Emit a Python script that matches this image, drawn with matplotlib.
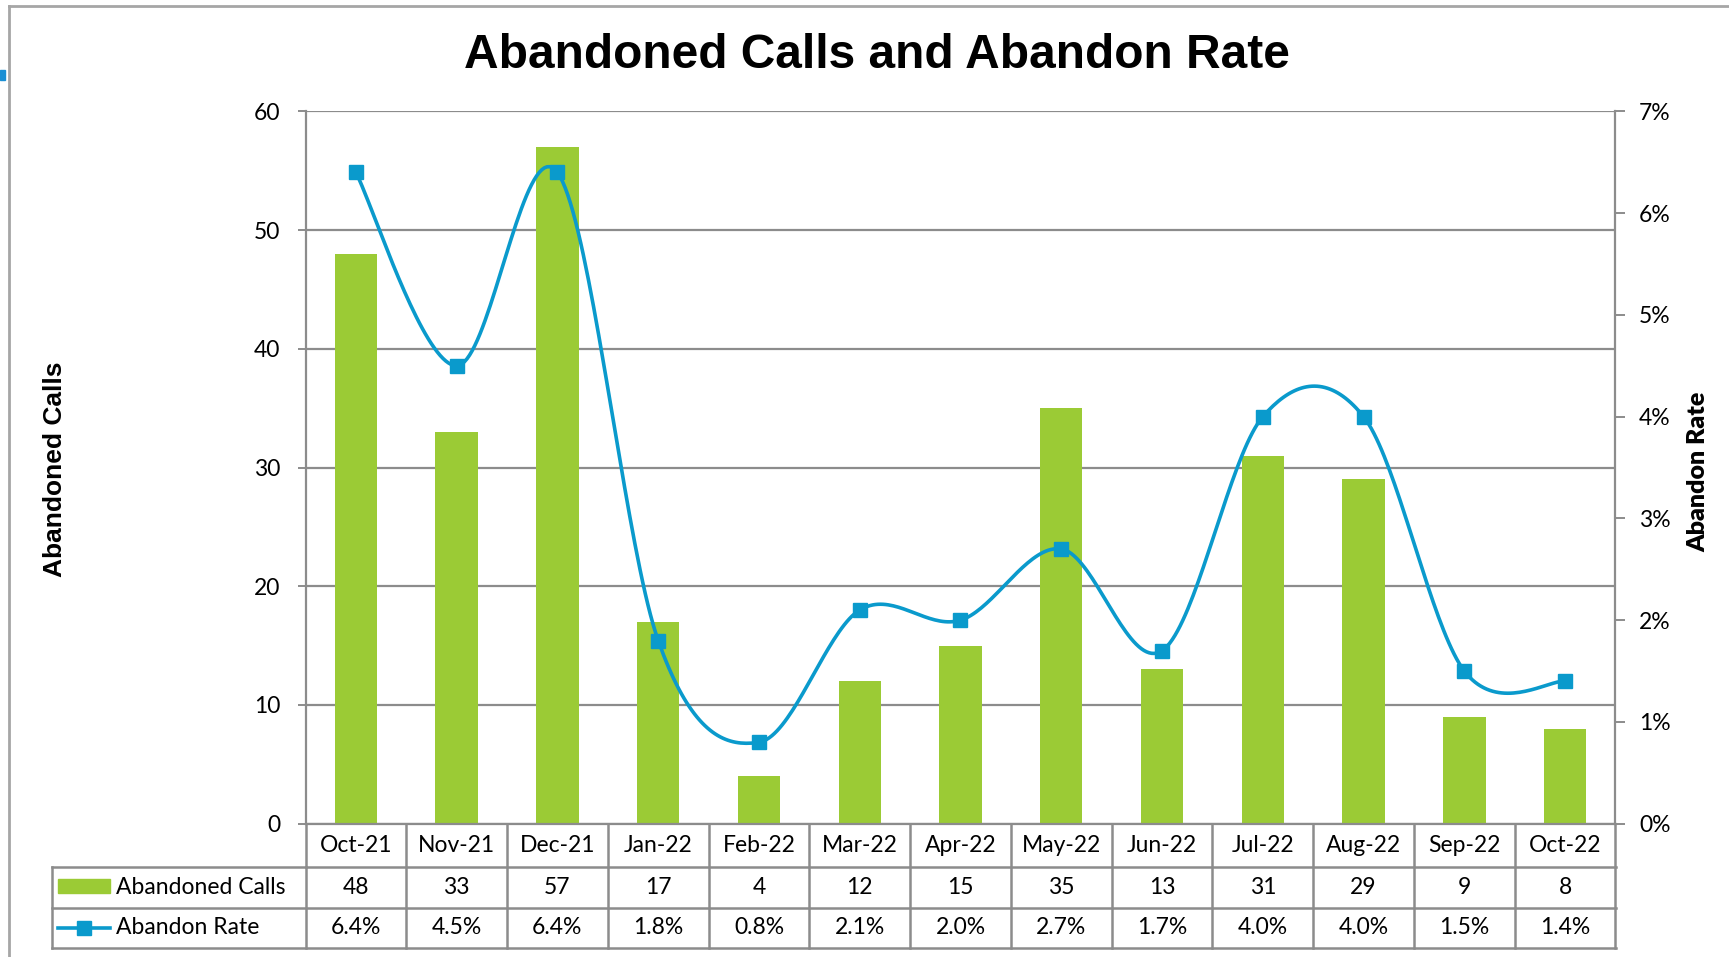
import numpy as np
import matplotlib
matplotlib.use("Agg")
import matplotlib.pyplot as plt
from matplotlib.lines import Line2D
from matplotlib.patches import Rectangle
from matplotlib.transforms import blended_transform_factory

months = ["Oct-21", "Nov-21", "Dec-21", "Jan-22", "Feb-22", "Mar-22", "Apr-22",
          "May-22", "Jun-22", "Jul-22", "Aug-22", "Sep-22", "Oct-22"]
abandoned_calls = [48, 33, 57, 17, 4, 12, 15, 35, 13, 31, 29, 9, 8]
abandon_rate = [6.4, 4.5, 6.4, 1.8, 0.8, 2.1, 2.0, 2.7, 1.7, 4.0, 4.0, 1.5, 1.4]
left_ticks = [0, 10, 20, 30, 40, 50, 60]
right_ticks = [0, 1, 2, 3, 4, 5, 6, 7]

GREEN = "#9BCB35"
BLUE = "#0A9ACC"
GRID = "#8C8C8C"
TICKFONT = "Lato"
TITLEFONT = "Liberation Sans"
FS = 16.5

W, H = 1729, 957
fig = plt.figure(figsize=(W / 100, H / 100), dpi=100)

def fx(px):
    return px / W

def fy(py):
    return 1 - py / H

L, R, T, B = 305.5, 1615.5, 111.4, 823.7
ax = fig.add_axes([fx(L), fy(B), fx(R - L), (B - T) / H])
n = len(months)
x = np.arange(n)

ax.bar(x, abandoned_calls, width=0.42, color=GREEN, zorder=2)
ax.set_xlim(-0.5, n - 0.5)
ax.set_ylim(0, 60)
ax.set_yticks(left_ticks)
ax.set_xticks([])
ax.yaxis.grid(True, color=GRID, linewidth=1.6, zorder=0)
ax.set_axisbelow(True)
for s in ["top", "right"]:
    ax.spines[s].set_visible(False)
ax.spines["left"].set_color(GRID)
ax.spines["left"].set_linewidth(1.6)
ax.spines["bottom"].set_color(GRID)
ax.spines["bottom"].set_linewidth(1.6)
ax.tick_params(axis="y", direction="out", length=6, width=1.4, color=GRID,
               pad=12, labelsize=FS)
for lab in ax.get_yticklabels():
    lab.set_fontfamily(TICKFONT)

ax2 = ax.twinx()
ax2.set_ylim(0, 7)
ax2.set_yticks(right_ticks)
ax2.set_yticklabels([f"{v}%" for v in right_ticks])
for s in ["top", "left", "bottom"]:
    ax2.spines[s].set_visible(False)
ax2.spines["right"].set_color(GRID)
ax2.spines["right"].set_linewidth(1.6)
ax2.tick_params(axis="y", direction="out", length=7, width=1.4, color=GRID,
                pad=10, labelsize=FS)
for lab in ax2.get_yticklabels():
    lab.set_fontfamily(TICKFONT)

# smoothed line (Bezier through points, Catmull-Rom style control points)
pts = np.column_stack([x, abandon_rate]).astype(float)
curve = []
t = np.linspace(0, 1, 40)
for i in range(n - 1):
    p0 = pts[i]
    p3 = pts[i + 1]
    pm = pts[i - 1] if i > 0 else pts[i]
    pn = pts[i + 2] if i + 2 < n else pts[i + 1]
    c1 = p0 + (p3 - pm) / 6
    c2 = p3 - (pn - p0) / 6
    seg = ((1 - t) ** 3)[:, None] * p0 + (3 * (1 - t) ** 2 * t)[:, None] * c1 \
        + (3 * (1 - t) * t ** 2)[:, None] * c2 + (t ** 3)[:, None] * p3
    curve.append(seg)
curve = np.vstack(curve)
ax2.plot(curve[:, 0], curve[:, 1], color=BLUE, linewidth=2.6, zorder=3,
         solid_capstyle="round")
ax2.plot(x, abandon_rate, linestyle="none", marker="s", markersize=10.5,
         color=BLUE, zorder=4)

# title and axis labels
fig.text(fx(877), fy(55), "Abandoned Calls and Abandon Rate", ha="center",
         va="center", fontsize=34.5, fontweight="bold", family=TITLEFONT)
fig.text(fx(55), fy(469), "Abandoned Calls", rotation=90, ha="center",
         va="center", fontsize=19, fontweight="bold", family=TITLEFONT)
fig.text(fx(1698), fy(472), "Abandon Rate", rotation=90, ha="center",
         va="center", fontsize=18, fontweight="heavy", family=TICKFONT)

# data table
trans = blended_transform_factory(ax.transData, fig.transFigure)
r0, r1, r2, r3 = B, 866.7, 907.5, 948.3
TL = 51.8
lw = 1.8
fig.add_artist(Line2D([fx(L), fx(R)], [fy(r1), fy(r1)], color=GRID, lw=lw))
fig.add_artist(Line2D([fx(TL), fx(L)], [fy(r1), fy(r1)], color=GRID, lw=lw))
fig.add_artist(Line2D([fx(TL), fx(R)], [fy(r2), fy(r2)], color=GRID, lw=lw))
fig.add_artist(Line2D([fx(TL), fx(R)], [fy(r3), fy(r3)], color=GRID, lw=lw))
fig.add_artist(Line2D([fx(TL), fx(TL)], [fy(r1), fy(r3)], color=GRID, lw=lw))
for i in range(n + 1):
    fig.add_artist(Line2D([i - 0.5, i - 0.5], [fy(r0), fy(r3)], color=GRID,
                          lw=lw, transform=trans))
for i, m in enumerate(months):
    fig.text(i, fy((r0 + r1) / 2), m, transform=trans, ha="center",
             va="center", fontsize=FS, family=TICKFONT)
    fig.text(i, fy((r1 + r2) / 2), f"{abandoned_calls[i]}", transform=trans,
             ha="center", va="center", fontsize=FS, family=TICKFONT)
    fig.text(i, fy((r2 + r3) / 2), f"{abandon_rate[i]:.1f}%", transform=trans,
             ha="center", va="center", fontsize=FS, family=TICKFONT)
# legend keys
fig.add_artist(Rectangle((fx(58), fy(893)), fx(52), 14 / H, color=GREEN))
fig.text(fx(116), fy((r1 + r2) / 2), "Abandoned Calls", ha="left", va="center",
         fontsize=FS, family=TICKFONT)
fig.add_artist(Line2D([fx(58), fx(110)], [fy(928), fy(928)], color=BLUE, lw=2.6))
fig.add_artist(Line2D([fx(84)], [fy(928)], color=BLUE, marker="s",
                      markersize=10.5, linestyle="none"))
fig.text(fx(116), fy((r2 + r3) / 2), "Abandon Rate", ha="left", va="center",
         fontsize=FS, family=TICKFONT)

# chart frame
fig.add_artist(Line2D([fx(9), fx(9)], [fy(5.5), 0], color="#A6A6A6", lw=2))
fig.add_artist(Line2D([fx(9), 1], [fy(5.5), fy(5.5)], color="#A6A6A6", lw=2))
fig.add_artist(Rectangle((0, fy(80)), fx(5), 10 / H, color="#1A8FD4"))

fig.savefig("out.png", dpi=100)
